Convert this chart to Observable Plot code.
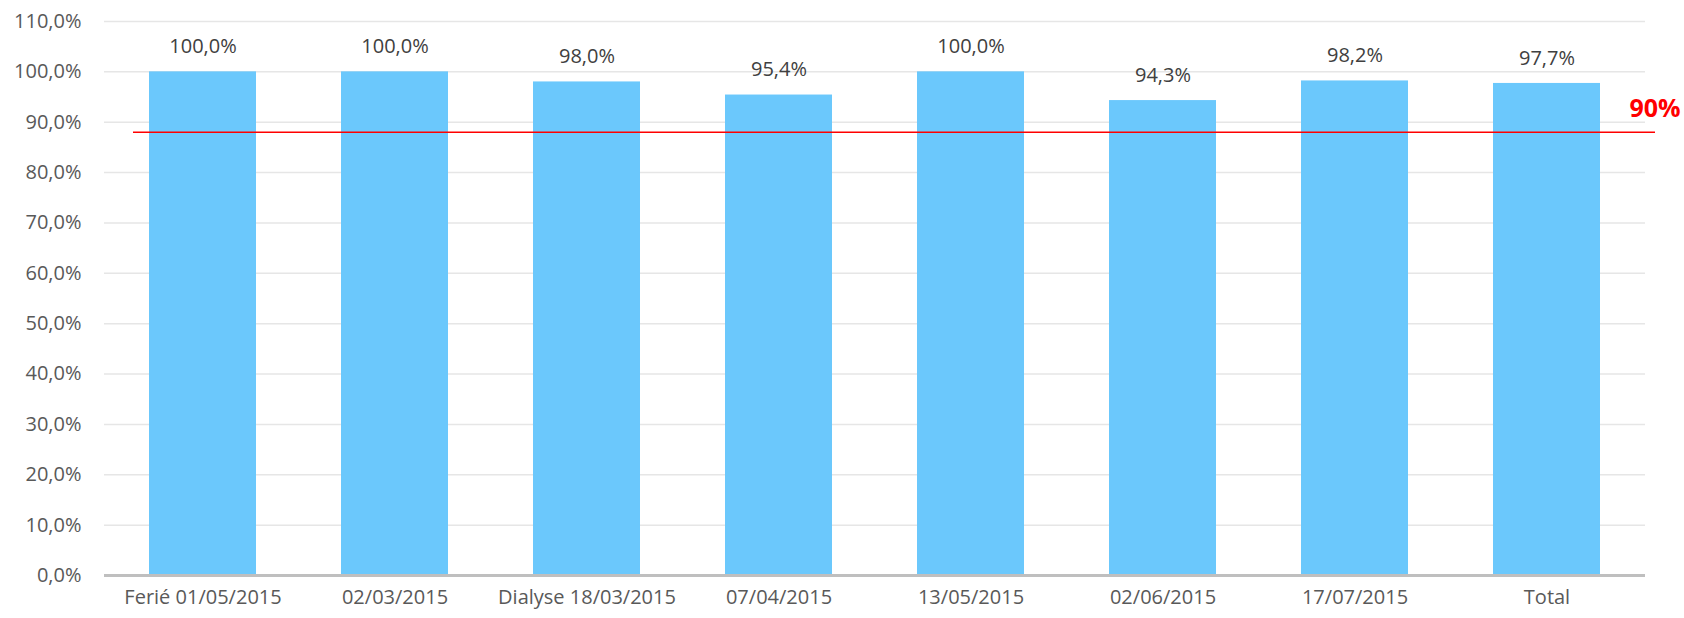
<!DOCTYPE html>
<html>
<head>
<meta charset="utf-8">
<script src="https://cdn.jsdelivr.net/npm/d3@7"></script>
<script src="https://cdn.jsdelivr.net/npm/@observablehq/plot@0.6"></script>
<style>
  html, body { margin: 0; padding: 0; background: #fff; }
  #chart svg { display: block; }
</style>
</head>
<body>
<div id="chart"></div>
<script>
const categories = ["Ferié 01/05/2015", "02/03/2015", "Dialyse 18/03/2015", "07/04/2015", "13/05/2015", "02/06/2015", "17/07/2015", "Total"];
const values = [100.0, 100.0, 98.0, 95.4, 100.0, 94.3, 98.2, 97.7];
const yTicks = [0, 10, 20, 30, 40, 50, 60, 70, 80, 90, 100, 110];
const targetValue = 88;
const targetLabel = "90%";

const data = categories.map((c, i) => ({category: c, value: values[i]}));
const fmt = d => d.toFixed(1).replace(".", ",") + "%";

const chart = Plot.plot({
  width: 1684,
  height: 618,
  marginLeft: 104,
  marginRight: 39,
  marginTop: 21,
  marginBottom: 43,
  style: {fontFamily: "'Open Sans', Lato, sans-serif", fontSize: "20px", background: "#fff"},
  x: {domain: categories, paddingInner: 0.444, paddingOuter: 0.222, label: null},
  y: {domain: [0, 110], ticks: yTicks, label: null},
  marks: [
    Plot.gridY(yTicks, {stroke: "#e6e6e6", strokeOpacity: 1, strokeWidth: 1.5}),
    Plot.axisY(yTicks, {tickSize: 0, tickPadding: 23, tickFormat: fmt, fill: "#595959", fontSize: 20, label: null}),
    Plot.axisX({tickSize: 0, tickPadding: 14, fill: "#595959", fontSize: 20, label: null}),
    Plot.barY(data, {x: "category", y: "value", fill: "#6bc8fc"}),
    Plot.ruleY([0], {stroke: "#bfbfbf", strokeWidth: 3}),
    Plot.text(data, {x: "category", y: "value", text: d => fmt(d.value), dy: -25, fill: "#404040", fontSize: 20}),
    Plot.ruleY([targetValue], {stroke: "#ff0000", strokeWidth: 1.5, insetLeft: 29, insetRight: -10}),
    Plot.text([targetLabel], {frameAnchor: "right", y: () => targetValue, text: d => d, textAnchor: "end", dx: 35, dy: -23, fill: "#ff0000", fontWeight: "bold", fontSize: 25})
  ]
});
document.getElementById("chart").appendChild(chart);
</script>
</body>
</html>
